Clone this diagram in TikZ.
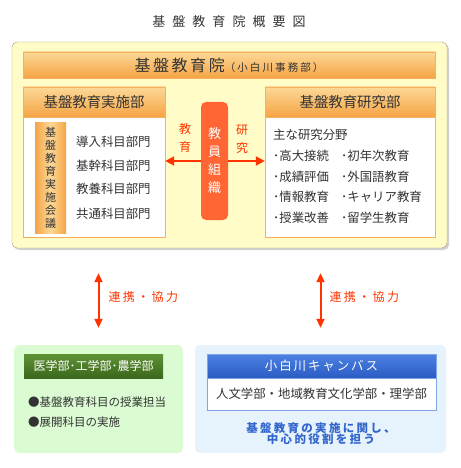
\documentclass[tikz,border=0pt]{standalone}
\usepackage{fontspec}
\setmainfont{Noto Sans CJK JP}
\usetikzlibrary{positioning, arrows.meta, shadows}

\definecolor{inkgrey}{HTML}{333333}
\definecolor{paleyellow}{HTML}{FFFCC8}
\definecolor{framegrey}{HTML}{A09880}
\definecolor{orangelight}{HTML}{FCD896}
\definecolor{orangedeep}{HTML}{F5A445}
\definecolor{orangeline}{HTML}{F5B060}
\definecolor{staffred}{HTML}{FF6633}
\definecolor{linkred}{HTML}{FF3300}
\definecolor{palegreen}{HTML}{DBFCD2}
\definecolor{greenlight}{HTML}{5E9236}
\definecolor{greendeep}{HTML}{3B681C}
\definecolor{paleblue}{HTML}{E6F2FC}
\definecolor{bluelight}{HTML}{4C82E2}
\definecolor{bluedeep}{HTML}{2B5BC4}
\definecolor{blueline}{HTML}{7FA4E4}
\definecolor{bluetext}{HTML}{3366CC}

\begin{document}
\begin{tikzpicture}[
            x=1pt, y=-1pt,
            every node/.style={text=inkgrey, inner sep=0pt},
            frame/.style={
                    rectangle,
                    rounded corners=5pt,
                    draw=framegrey,
                    fill=paleyellow,
                    drop shadow={shadow xshift=2pt, shadow yshift=-2pt,
                            fill=black!45, opacity=0.4}
                },
            orangebar/.style={
                    rectangle,
                    draw=orangeline,
                    top color=orangelight,
                    bottom color=orangedeep
                },
            deptbody/.style={
                    rectangle,
                    draw=orangeline,
                    fill=white
                },
            council/.style={
                    rectangle,
                    left color=orangedeep,
                    right color=orangedeep,
                    middle color=orangelight,
                    align=center,
                    font=\fontsize{11}{12.9}\selectfont
                },
            staffbox/.style={
                    rectangle,
                    rounded corners=5pt,
                    fill=staffred,
                    text=white,
                    align=center,
                    font=\fontsize{13}{18}\selectfont
                },
            listitem/.style={
                    anchor=west,
                    font=\fontsize{12.4}{14}\selectfont
                },
            redlabel/.style={
                    text=linkred,
                    align=center,
                    font=\fontsize{12}{18}\selectfont
                },
            arrowline/.style={
                    draw=linkred,
                    line width=2pt,
                    -{Triangle[length=9pt, width=9pt]}
                },
            linkline/.style={
                    draw=linkred,
                    line width=2pt,
                    {Triangle[length=9pt, width=8pt]}-{Triangle[length=9pt, width=8pt]}
                },
            linklabel/.style={
                    text=linkred,
                    font=\fontsize{12}{14}\selectfont\addfontfeatures{LetterSpace=20}
                },
            lowerbox/.style={
                    rectangle,
                    rounded corners=5pt,
                    minimum width=251pt,
                    minimum height=108pt
                },
            greenbar/.style={
                    rectangle,
                    top color=greenlight,
                    bottom color=greendeep,
                    text=white,
                    font=\fontsize{12}{14}\selectfont
                },
            bluebar/.style={
                    rectangle,
                    draw=blueline,
                    top color=bluelight,
                    bottom color=bluedeep,
                    text=white,
                    font=\fontsize{12.5}{14}\selectfont\addfontfeatures{LetterSpace=15}
                }
        ]
        \useasboundingbox (0,0) rectangle (460,468);

        % Title
        \node [font=\fontsize{13}{15}\selectfont\addfontfeatures{LetterSpace=54}] (ttl) at (229,22) {基盤教育院概要図};

        % Upper frame
        \node [frame, minimum width=435pt, minimum height=206pt] (inst) at (229.5,145) {};
        \node [orangebar, minimum width=412pt, minimum height=26pt] (insthead) at (229,65)
            {{\fontsize{16}{18}\selectfont\addfontfeatures{LetterSpace=16}基盤教育院}{\fontsize{10.5}{12}\selectfont\addfontfeatures{LetterSpace=20}（小白川事務部）}};

        % Left department
        \node [deptbody, minimum width=142pt, minimum height=150pt] (impl) at (94,162) {};
        \node [orangebar, minimum width=142pt, minimum height=30pt,
            font=\fontsize{14.4}{16}\selectfont] (implhead) at (94,102) {基盤教育実施部};
        \node [council, minimum width=31pt, minimum height=110pt] (meet) at (50.5,178)
            {基\\盤\\教\\育\\実\\施\\会\\議};
        \node [listitem] (sec1) at (76,142) {導入科目部門};
        \node [listitem] (sec2) at (76,166) {基幹科目部門};
        \node [listitem] (sec3) at (76,189) {教養科目部門};
        \node [listitem] (sec4) at (76,214) {共通科目部門};

        % Right department
        \node [deptbody, minimum width=170pt, minimum height=150pt] (res) at (350,162) {};
        \node [orangebar, minimum width=170pt, minimum height=30pt,
            font=\fontsize{14.4}{16}\selectfont] (reshead) at (350,102) {基盤教育研究部};
        \node [listitem] (field) at (273,135) {主な研究分野};
        \node [listitem] (fa1) at (273,156) {･高大接続};
        \node [listitem] (fa2) at (273,177) {･成績評価};
        \node [listitem] (fa3) at (273,197) {･情報教育};
        \node [listitem] (fa4) at (273,218) {･授業改善};
        \node [listitem] (fb1) at (341,156) {･初年次教育};
        \node [listitem] (fb2) at (341,177) {･外国語教育};
        \node [listitem] (fb3) at (341,197) {･キャリア教育};
        \node [listitem] (fb4) at (341,218) {･留学生教育};

        % Faculty staff
        \node [staffbox, minimum width=27pt, minimum height=118pt] (staff) at (214.5,161)
            {教\\員\\組\\織};
        \node [redlabel] (edu) at (185,138) {教\\育};
        \node [redlabel] (study) at (242,139) {研\\究};
        \path [arrowline] (staff.west) -- (staff.west -| impl.east);
        \path [arrowline] (staff.east) -- (staff.east -| res.west);

        % Lower boxes
        \node [lowerbox, fill=palegreen, minimum width=169pt] (med) at (98.5,399) {};
        \node [greenbar, minimum width=139pt, minimum height=24pt] (medhead) at (93.5,366)
            {医学部･工学部･農学部};
        \node [listitem, font=\fontsize{11.5}{14}\selectfont] (duty1) at (28,402) {●基盤教育科目の授業担当};
        \node [listitem, font=\fontsize{11.5}{14}\selectfont] (duty2) at (28,422) {●展開科目の実施};

        \node [lowerbox, fill=paleblue] (camp) at (320.5,399) {};
        \node [rectangle, draw=blueline, fill=white, minimum width=229pt, minimum height=32pt,
            font=\fontsize{12.4}{14}\selectfont] (campbody) at (321.5,394)
            {人文学部・地域教育文化学部・理学部};
        \node [bluebar, minimum width=229pt, minimum height=24pt] (camphead) at (321.5,366)
            {小白川キャンバス};
        \node [text=bluetext, align=center,
            font=\fontsize{11.5}{11}\selectfont\bfseries\addfontfeatures{LetterSpace=20}] (role) at (321,434)
            {基盤教育の実施に関し、\\中心的役割を担う};

        % Links
        \path [linkline, shorten <=25pt, shorten >=17pt] (med.north |- inst.south) -- (med.north)
            node [linklabel, midway, right=9pt] {連携・協力};
        \path [linkline, shorten <=25pt, shorten >=17pt] (camp.north |- inst.south) -- (camp.north)
            node [linklabel, midway, right=8pt] {連携・協力};
    \end{tikzpicture}
\end{document}
